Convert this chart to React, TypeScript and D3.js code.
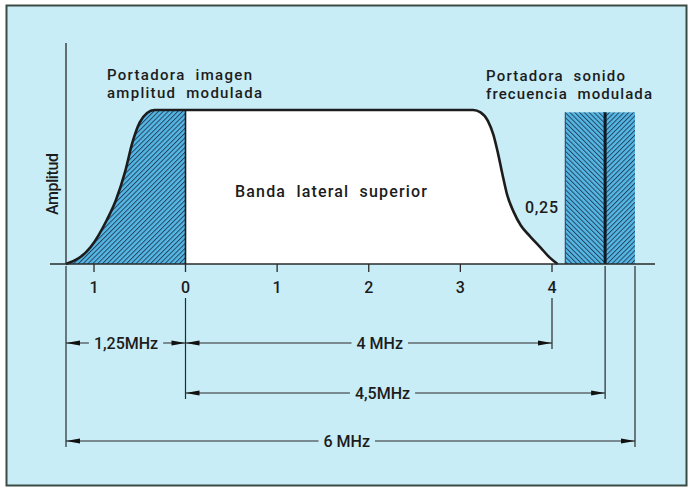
import React, { useEffect, useRef } from 'react';
import * as d3 from 'd3';

// ---- data ----
const tickValues = [-1, 0, 1, 2, 3, 4];
const tickLabels = ['1', '0', '1', '2', '3', '4'];

// vision spectrum outline (MHz relative to picture carrier, relative amplitude)
const curveFreq = [-1.25, -1.03, -0.86, -0.76, -0.66, -0.58, -0.5, -0.42, -0.34, 3.14, 3.22, 3.3, 3.36, 3.41, 3.46, 3.51, 3.58, 3.66, 3.76, 3.87, 3.97, 4.05];
const curveAmp = [0, 0.11, 0.286, 0.416, 0.6, 0.79, 0.92, 0.98, 1, 1, 0.985, 0.93, 0.84, 0.72, 0.58, 0.45, 0.34, 0.25, 0.18, 0.11, 0.045, 0];

const soundBand = [4.12, 4.75];
const soundCarrier = 4.48;
const soundAmp = 0.985;
const soundLabel = '0,25';

const dimFrom = [-1.25, 0, 0, -1.25];
const dimTo = [0, 4, 4.48, 4.75];
const dimLabels = ['1,25MHz', '4 MHz', '4,5MHz', '6 MHz'];
const dimLabelAt = [-0.65, 2.12, 2.15, 1.76];
const dimRow = [0, 0, 1, 2];

const W = 692;
const H = 489;
const BG = '#c8edf7';
const INK = '#1c1c1c';
const HATCH_FILL = '#55b8e4';
const HATCH_LINE = '#223f5e';
const FONT = "Roboto, 'DejaVu Sans', sans-serif";
const FS = 16;
const FS_LABEL = 15;
const FW = 500;

export default function App() {
  const ref = useRef<SVGSVGElement | null>(null);

  useEffect(() => {
    const svg = d3.select(ref.current);
    svg.selectAll('*').remove();

    const x = d3.scaleLinear().domain([-1.25, -1, 0, 4, 4.75]).range([66, 94, 185.5, 552, 635]);
    const y = d3.scaleLinear().domain([0, 1]).range([264, 110]);
    const rowY = [343, 393, 441];

    const defs = svg.append('defs');
    const mkPattern = (id: string, angle: number) => {
      const p = defs
        .append('pattern')
        .attr('id', id)
        .attr('patternUnits', 'userSpaceOnUse')
        .attr('width', 3.4)
        .attr('height', 6)
        .attr('patternTransform', `rotate(${angle})`);
      p.append('rect').attr('width', 3.4).attr('height', 6).attr('fill', HATCH_FILL);
      p.append('line').attr('x1', 0.5).attr('x2', 0.5).attr('y1', 0).attr('y2', 6)
        .attr('stroke', HATCH_LINE).attr('stroke-width', 0.95);
    };
    mkPattern('hatchR', 45);
    mkPattern('hatchL', -45);

    defs.append('clipPath').attr('id', 'clipLeft')
      .append('rect').attr('x', 0).attr('y', 0).attr('width', x(0)).attr('height', H);

    // frame
    svg.append('rect').attr('x', 6.5).attr('y', 5.5).attr('width', 680).attr('height', 480)
      .attr('fill', BG).attr('stroke', '#3c4a44').attr('stroke-width', 2);

    const pts = curveFreq.map((f, i) => [f, curveAmp[i]] as [number, number]);
    const area = d3.area<[number, number]>()
      .x(d => x(d[0])).y0(y(0)).y1(d => y(d[1])).curve(d3.curveMonotoneX);
    const line = d3.line<[number, number]>()
      .x(d => x(d[0])).y(d => y(d[1])).curve(d3.curveMonotoneX);

    svg.append('path').attr('d', area(pts)).attr('fill', '#ffffff');
    svg.append('path').attr('d', area(pts)).attr('fill', 'url(#hatchR)').attr('clip-path', 'url(#clipLeft)');

    // sound carrier block
    const sx0 = x(soundBand[0]);
    const sx1 = x(soundBand[1]);
    const sc = x(soundCarrier);
    svg.append('rect').attr('x', sx0).attr('y', y(soundAmp)).attr('width', sc - sx0).attr('height', y(0) - y(soundAmp))
      .attr('fill', 'url(#hatchL)');
    svg.append('rect').attr('x', sc).attr('y', y(soundAmp)).attr('width', sx1 - sc).attr('height', y(0) - y(soundAmp))
      .attr('fill', 'url(#hatchR)');
    svg.append('line').attr('x1', sx0).attr('x2', sx0).attr('y1', y(soundAmp)).attr('y2', y(0))
      .attr('stroke', HATCH_LINE).attr('stroke-width', 1);
    svg.append('line').attr('x1', sc).attr('x2', sc).attr('y1', y(soundAmp)).attr('y2', y(0))
      .attr('stroke', '#0f1a24').attr('stroke-width', 3);

    // divider at picture carrier
    svg.append('line').attr('x1', x(0)).attr('x2', x(0)).attr('y1', y(1)).attr('y2', y(0))
      .attr('stroke', INK).attr('stroke-width', 1.6);

    // outline
    svg.append('path').attr('d', line(pts)).attr('fill', 'none').attr('stroke', INK).attr('stroke-width', 2.6)
      .attr('stroke-linejoin', 'round');

    // axes
    svg.append('line').attr('x1', 50).attr('x2', 655).attr('y1', y(0)).attr('y2', y(0))
      .attr('stroke', '#2a2a2a').attr('stroke-width', 1.5);
    svg.append('line').attr('x1', x(-1.25)).attr('x2', x(-1.25)).attr('y1', 43).attr('y2', y(0))
      .attr('stroke', '#2a2a2a').attr('stroke-width', 1.3);

    tickValues.forEach((t, i) => {
      svg.append('line').attr('x1', x(t)).attr('x2', x(t)).attr('y1', y(0)).attr('y2', y(0) + 8)
        .attr('stroke', '#2a2a2a').attr('stroke-width', 1.3);
      svg.append('text').attr('x', x(t)).attr('y', 293).attr('text-anchor', 'middle')
        .attr('font-family', FONT).attr('font-size', FS).attr('font-weight', FW).attr('fill', INK).text(tickLabels[i]);
    });

    // extension lines
    const extPts = Array.from(new Set([...dimFrom, ...dimTo]));
    extPts.forEach(f => {
      let bottom = 0;
      dimFrom.forEach((d, i) => {
        if (d === f || dimTo[i] === f) bottom = Math.max(bottom, rowY[dimRow[i]] + 6);
      });
      const top = tickValues.includes(f) ? 298 : y(0) + 2;
      svg.append('line').attr('x1', x(f)).attr('x2', x(f)).attr('y1', top).attr('y2', bottom)
        .attr('stroke', '#2a2a2a').attr('stroke-width', 1.2);
    });

    // dimension rows
    dimFrom.forEach((f, i) => {
      const ry = rowY[dimRow[i]];
      const x0 = x(f);
      const x1 = x(dimTo[i]);
      svg.append('line').attr('x1', x0).attr('x2', x1).attr('y1', ry).attr('y2', ry)
        .attr('stroke', '#2a2a2a').attr('stroke-width', 1.2);
      const t = svg.append('text').attr('x', x(dimLabelAt[i])).attr('y', ry + 6).attr('text-anchor', 'middle')
        .attr('font-family', FONT).attr('font-size', FS).attr('font-weight', FW).attr('fill', INK)
        .style('white-space', 'pre').text(dimLabels[i]);
      const bb = (t.node() as SVGTextElement).getBBox();
      svg.insert('rect', () => t.node() as any)
        .attr('x', bb.x - 5).attr('y', ry - 3).attr('width', bb.width + 10).attr('height', 6).attr('fill', BG);
      const ah = (tip: number, dir: number) =>
        `M${tip},${ry}L${tip + dir * 14},${ry - 2.6}L${tip + dir * 14},${ry + 2.6}Z`;
      svg.append('path').attr('d', ah(x0, 1)).attr('fill', '#111');
      svg.append('path').attr('d', ah(x1, -1)).attr('fill', '#111');
    });

    // texts
    const txt = (s: string, tx: number, ty: number, len: number, fs: number) =>
      svg.append('text').attr('x', tx).attr('y', ty).attr('font-family', FONT).attr('font-size', fs)
        .attr('font-weight', FW).attr('fill', INK).attr('textLength', len).attr('lengthAdjust', 'spacing')
        .style('white-space', 'pre').text(s);
    txt('Portadora  imagen', 107, 80, 145, FS_LABEL);
    txt('amplitud  modulada', 107, 98, 155, FS_LABEL);
    txt('Banda  lateral  superior', 235, 197, 192, FS);
    txt(soundLabel, 525, 213, 33, FS);
    txt('Portadora  sonido', 486, 81, 139, FS_LABEL);
    txt('frecuencia  modulada', 486, 99, 166, FS_LABEL);

    svg.append('text').attr('transform', 'translate(58,184) rotate(-90)').attr('text-anchor', 'middle')
      .attr('font-family', FONT).attr('font-size', FS).attr('font-weight', FW).attr('fill', INK)
      .attr('textLength', 62).attr('lengthAdjust', 'spacing').text('Amplitud');
  }, []);

  return (
    <svg
      ref={ref}
      width={W}
      height={H}
      style={{ position: 'absolute', left: 0, top: 0, background: '#ffffff' }}
    />
  );
}
